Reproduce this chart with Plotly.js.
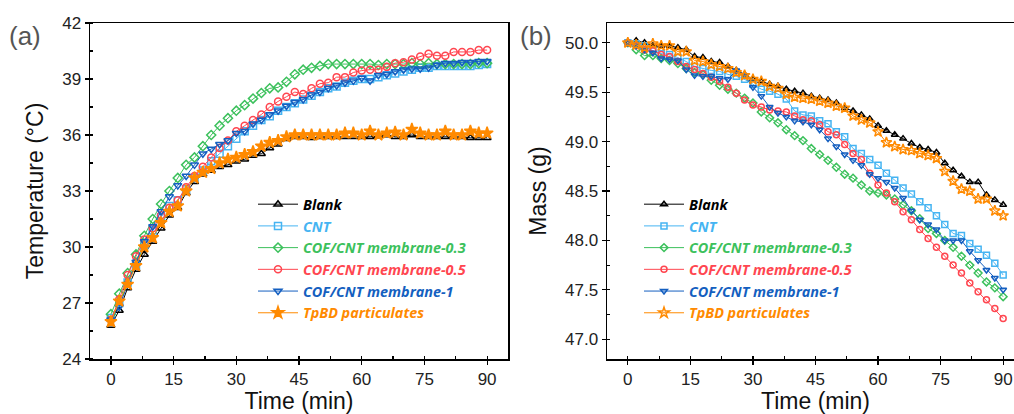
<!DOCTYPE html>
<html>
<head>
<meta charset="utf-8">
<script src="https://cdn.plot.ly/plotly-3.0.1.min.js"></script>
<style>
html, body { margin: 0; padding: 0; overflow: hidden; background: #fff; }
#chart { width: 1030px; height: 414px; }
</style>
</head>
<body>
<div id="chart"></div>
<script>
// Time (min)
const time = [0,2,4,6,8,10,12,14,16,18,20,22,24,26,28,30,32,34,36,38,40,42,44,46,48,50,52,54,56,58,60,62,64,66,68,70,72,74,76,78,80,82,84,86,88,90];

const seriesNames = ["Blank", "CNT", "COF/CNT membrane-0.3", "COF/CNT membrane-0.5", "COF/CNT membrane-1", "TpBD particulates"];

// (a) Temperature (°C)
const blankT = [25.8,26.6,27.8,28.8,29.6,30.3,31.0,31.7,32.1,32.9,33.5,33.9,34.1,34.3,34.4,34.6,34.7,34.9,35.0,35.3,35.5,35.8,35.9,35.9,35.85,35.9,35.9,35.9,35.9,35.9,35.9,35.9,35.95,36.0,35.9,35.9,36.0,35.9,35.9,35.9,35.9,35.9,35.9,35.85,35.85,35.85];
const cntT = [26.2,27.0,28.1,29.0,30.1,30.9,31.6,32.2,32.5,33.1,33.7,34.1,34.6,35.0,35.4,35.8,36.2,36.5,36.8,37.0,37.3,37.5,37.7,37.9,38.1,38.3,38.5,38.6,38.8,38.9,39.0,39.0,39.1,39.2,39.3,39.4,39.5,39.6,39.6,39.7,39.7,39.7,39.7,39.7,39.75,39.8];
const cof03T = [26.4,27.5,28.6,29.6,30.6,31.5,32.3,33.0,33.7,34.4,34.8,35.4,36.0,36.5,36.9,37.3,37.6,37.95,38.25,38.5,38.55,38.85,39.25,39.5,39.6,39.7,39.8,39.8,39.8,39.8,39.8,39.8,39.75,39.8,39.8,39.8,39.85,39.8,39.85,39.8,39.8,39.8,39.8,39.8,39.85,39.85];
const cof05T = [26.1,27.2,28.5,29.5,30.4,31.0,31.7,32.1,32.5,33.2,33.8,34.3,34.8,35.3,35.7,36.2,36.5,36.8,37.1,37.5,37.8,38.05,38.3,38.2,38.5,38.75,38.8,39.1,39.1,39.35,39.45,39.5,39.5,39.65,39.85,39.9,40.05,40.2,40.35,40.25,40.25,40.45,40.45,40.45,40.55,40.55];
const cof1T = [26.1,26.8,28.0,29.2,30.3,31.1,31.9,32.7,33.3,33.8,34.4,35.0,35.25,35.5,35.7,36.1,36.2,36.6,36.8,37.1,37.3,37.55,37.75,37.9,38.15,38.3,38.5,38.65,38.8,38.9,39.05,38.9,39.2,39.25,39.4,39.5,39.55,39.55,39.6,39.75,39.85,39.85,39.9,39.9,39.95,39.95];
const tpbdT = [26.0,27.1,28.0,29.0,30.0,30.5,31.3,31.9,32.2,33.0,33.7,34.0,34.2,34.5,34.7,34.8,34.95,35.1,35.4,35.6,35.7,35.9,36.0,36.0,36.0,36.0,36.0,36.0,36.1,36.1,36.0,36.2,36.0,36.1,36.15,36.0,36.3,36.1,36.0,36.0,36.2,36.0,36.0,36.2,36.1,36.1];

// (b) Mass (g)
const blankM = [50.0,50.02,50.0,49.97,49.97,49.97,49.95,49.93,49.86,49.85,49.81,49.8,49.76,49.72,49.68,49.63,49.61,49.58,49.56,49.53,49.51,49.49,49.46,49.44,49.42,49.39,49.34,49.31,49.27,49.23,49.16,49.11,49.07,49.03,48.98,48.94,48.92,48.89,48.78,48.71,48.65,48.59,48.59,48.46,48.41,48.36];
const cntM = [50.0,49.99,49.97,49.92,49.89,49.88,49.85,49.81,49.76,49.74,49.72,49.71,49.68,49.66,49.63,49.58,49.53,49.51,49.48,49.43,49.31,49.27,49.26,49.21,49.18,49.1,49.05,48.93,48.88,48.82,48.76,48.68,48.61,48.53,48.47,48.39,48.33,48.25,48.16,48.07,48.05,47.97,47.91,47.85,47.77,47.65];
const cof03M = [50.0,49.93,49.87,49.87,49.84,49.82,49.79,49.74,49.7,49.68,49.62,49.57,49.53,49.49,49.44,49.39,49.3,49.24,49.19,49.12,49.06,49.01,48.93,48.87,48.81,48.74,48.67,48.63,48.56,48.5,48.48,48.46,48.42,48.36,48.3,48.22,48.12,48.07,48.0,47.93,47.84,47.75,47.67,47.58,47.52,47.43];
const cof05M = [50.0,49.97,49.93,49.92,49.88,49.86,49.81,49.76,49.73,49.69,49.65,49.61,49.55,49.49,49.42,49.37,49.35,49.32,49.31,49.3,49.26,49.22,49.21,49.17,49.1,49.07,48.97,48.88,48.82,48.68,48.56,48.48,48.39,48.29,48.21,48.11,48.02,47.93,47.84,47.75,47.67,47.57,47.48,47.4,47.31,47.21];
const cof1M = [50.0,49.97,49.93,49.9,49.84,49.83,49.82,49.73,49.67,49.66,49.66,49.64,49.63,49.72,49.67,49.55,49.46,49.35,49.29,49.25,49.21,49.2,49.17,49.12,49.03,48.95,48.87,48.81,48.76,48.67,48.63,48.59,48.53,48.43,48.3,48.21,48.16,48.11,48.0,48.0,48.0,47.89,47.8,47.7,47.62,47.5];
const tpbdM = [50.0,49.98,49.95,49.99,49.97,49.97,49.91,49.91,49.82,49.81,49.78,49.76,49.74,49.7,49.67,49.63,49.61,49.56,49.54,49.48,49.45,49.44,49.43,49.41,49.39,49.36,49.34,49.26,49.22,49.19,49.1,48.99,48.95,48.92,48.91,48.88,48.86,48.83,48.7,48.6,48.52,48.5,48.42,48.42,48.3,48.25];

const colors = ["#000000", "#45b4f2", "#3cc15c", "#ff4650", "#145fc0", "#ff8a00"];
const symbolsA = ["triangle-up-open", "square-open", "diamond-open", "circle-open", "triangle-down-open", "star"];
const symbolsB = ["triangle-up-open", "square-open", "diamond-open", "circle-open", "triangle-down-open", "star-open"];

const tempData = [blankT, cntT, cof03T, cof05T, cof1T, tpbdT];
const massData = [blankM, cntM, cof03M, cof05M, cof1M, tpbdM];

const traces = [];
tempData.forEach((ys, i) => {
  traces.push({
    x: time, y: ys, xaxis: "x", yaxis: "y", type: "scatter", mode: "lines+markers",
    name: '<span style="color:' + colors[i] + '">' + seriesNames[i] + '</span>',
    legend: "legend",
    line: { color: colors[i], width: 1 },
    marker: { symbol: symbolsA[i], size: i === 5 ? 9 : 7, color: colors[i], line: { color: colors[i], width: 1.5 } }
  });
});
massData.forEach((ys, i) => {
  traces.push({
    x: time, y: ys, xaxis: "x2", yaxis: "y2", type: "scatter", mode: "lines+markers",
    name: '<span style="color:' + colors[i] + '">' + seriesNames[i] + '</span>',
    legend: "legend2",
    line: { color: colors[i], width: 1 },
    marker: { symbol: symbolsB[i], size: i === 5 ? 8 : 6, color: colors[i], line: { color: colors[i], width: 1.5 } }
  });
});

const FONT = "Liberation Sans, Arial, sans-serif";
const LFONT = "Open Sans, Lato, sans-serif";
const W = 1024;
function axisBase() {
  return {
    showline: true, mirror: true, linecolor: "#000", linewidth: 1.5,
    ticks: "outside", ticklen: 4, tickwidth: 1.2, tickcolor: "#000",
    showgrid: false, zeroline: false,
    tickfont: { family: FONT, size: 17, color: "#222" }
  };
}

const layout = {
  width: 1030, height: 414,
  margin: { l: 0, r: 6, t: 23, b: 55 },
  paper_bgcolor: "#fff", plot_bgcolor: "#fff",
  font: { family: FONT, color: "#222" },
  xaxis: Object.assign(axisBase(), {
    domain: [90 / W, 508 / W], range: [-5, 95], tick0: 0, dtick: 15,
    minor: { tick0: 0, dtick: 7.5, ticks: "inside", ticklen: 3, tickcolor: "#000" },
    title: { text: "Time (min)", font: { family: FONT, size: 23, color: "#111" }, standoff: 6 }
  }),
  yaxis: Object.assign(axisBase(), {
    domain: [0, 1], range: [24, 42], tick0: 24, dtick: 3,
    minor: { tick0: 24, dtick: 1.5, ticks: "inside", ticklen: 3, tickcolor: "#000" },
    title: { text: "Temperature (°C)", font: { family: FONT, size: 23, color: "#111" }, standoff: 12 }
  }),
  xaxis2: Object.assign(axisBase(), {
    domain: [607 / W, 1], range: [-5, 95], tick0: 0, dtick: 15, anchor: "y2",
    minor: { tick0: 0, dtick: 7.5, ticks: "inside", ticklen: 3, tickcolor: "#000" },
    title: { text: "Time (min)", font: { family: FONT, size: 23, color: "#111" }, standoff: 6 }
  }),
  yaxis2: Object.assign(axisBase(), {
    domain: [0, 1], range: [46.8, 50.2], tick0: 47, dtick: 0.5, tickformat: ".1f", anchor: "x2",
    minor: { tick0: 47, dtick: 0.25, ticks: "inside", ticklen: 3, tickcolor: "#000" },
    title: { text: "Mass (g)", font: { family: FONT, size: 23, color: "#111" }, standoff: 12 }
  }),
  legend: {
    x: 253 / W, y: 0.508, xanchor: "left", yanchor: "top",
    bgcolor: "rgba(0,0,0,0)", borderwidth: 0, itemwidth: 40, tracegroupgap: 0,
    font: { family: LFONT, size: 14.4, style: "italic", weight: 700 }
  },
  legend2: {
    x: 639 / W, y: 0.508, xanchor: "left", yanchor: "top",
    bgcolor: "rgba(0,0,0,0)", borderwidth: 0, itemwidth: 40, tracegroupgap: 0,
    font: { family: LFONT, size: 14.4, style: "italic", weight: 700 }
  },
  annotations: [
    { text: "(a)", xref: "paper", yref: "paper", x: 7 / W, y: 0.96, xanchor: "left", yanchor: "middle",
      showarrow: false, font: { family: FONT, size: 26, color: "#555" } },
    { text: "(b)", xref: "paper", yref: "paper", x: 518 / W, y: 0.96, xanchor: "left", yanchor: "middle",
      showarrow: false, font: { family: FONT, size: 26, color: "#555" } }
  ],
  showlegend: true
};

Plotly.newPlot("chart", traces, layout, { displayModeBar: false, staticPlot: true });
</script>
</body>
</html>
